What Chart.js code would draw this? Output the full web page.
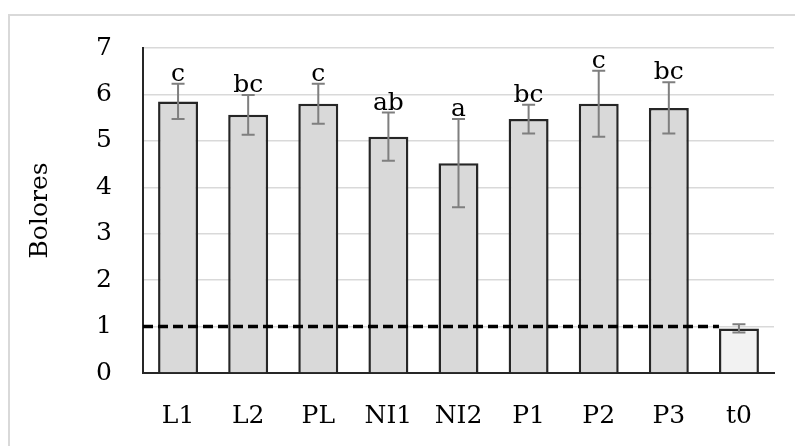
<!DOCTYPE html>
<html>
<head>
<meta charset="utf-8">
<script src="https://cdn.jsdelivr.net/npm/chart.js@4/dist/chart.umd.min.js"></script>
<style>
html,body{margin:0;padding:0;background:#fff;}
#c{display:block;}
</style>
</head>
<body>
<canvas id="c" width="795" height="446"></canvas>
<script>
const categories = ['L1','L2','PL','NI1','NI2','P1','P2','P3','t0'];
const means  = [5.85, 5.56, 5.80, 5.09, 4.52, 5.47, 5.80, 5.71, 0.96];
const errors = [0.38, 0.43, 0.43, 0.52, 0.95, 0.31, 0.71, 0.55, 0.09];
const letters = ['c','bc','c','ab','a','bc','c','bc',''];
const yAxisTitle = 'Bolores';
const yMin = 0, yMax = 7, yStep = 1;
const threshold = 1;

const FONT = '"DejaVu Serif", "Liberation Serif", serif';
const TEXT = '#000';

const frame = {
  id: 'frame',
  beforeDraw(chart) {
    const ctx = chart.ctx;
    ctx.save();
    ctx.fillStyle = '#fff';
    ctx.fillRect(0, 0, chart.width, chart.height);
    ctx.strokeStyle = '#d9d9d9';
    ctx.lineWidth = 2;
    ctx.strokeRect(9, 15, 900, 600);
    ctx.restore();
  }
};

const extras = {
  id: 'extras',
  afterDatasetsDraw(chart) {
    const ctx = chart.ctx;
    const y = chart.scales.y;
    const meta = chart.getDatasetMeta(0);
    ctx.save();
    const lastBar = meta.data[meta.data.length - 1];
    const yT = y.getPixelForValue(threshold);
    ctx.strokeStyle = '#000';
    ctx.lineWidth = 3.5;
    ctx.setLineDash([10, 5]);
    ctx.beginPath();
    ctx.moveTo(chart.chartArea.left, yT);
    ctx.lineTo(lastBar.x - lastBar.width / 2, yT);
    ctx.stroke();
    ctx.setLineDash([]);
    ctx.strokeStyle = '#7f7f7f';
    ctx.lineWidth = 2;
    meta.data.forEach((el, i) => {
      const top = y.getPixelForValue(means[i] + errors[i]);
      const bot = y.getPixelForValue(means[i] - errors[i]);
      ctx.beginPath();
      ctx.moveTo(el.x, top); ctx.lineTo(el.x, bot);
      ctx.moveTo(el.x - 6.5, top); ctx.lineTo(el.x + 6.5, top);
      ctx.moveTo(el.x - 6.5, bot); ctx.lineTo(el.x + 6.5, bot);
      ctx.stroke();
      if (letters[i]) {
        ctx.fillStyle = TEXT;
        ctx.font = '25px ' + FONT;
        ctx.textAlign = 'center';
        ctx.textBaseline = 'alphabetic';
        ctx.fillText(letters[i], el.x, top - 3);
      }
    });
    ctx.restore();
  }
};

new Chart(document.getElementById('c'), {
  type: 'bar',
  data: {
    labels: categories,
    datasets: [{
      data: means,
      backgroundColor: (c) => c.dataIndex === categories.length - 1 ? '#f2f2f2' : '#d9d9d9',
      borderColor: '#262626',
      borderWidth: 2.5,
      categoryPercentage: 1,
      barPercentage: 0.57
    }]
  },
  options: {
    responsive: false,
    animation: false,
    layout: { padding: { left: 0, top: 48, right: 21, bottom: 0 } },
    plugins: { legend: { display: false }, tooltip: { enabled: false } },
    scales: {
      x: {
        grid: { display: false },
        border: { display: true, color: '#262626', width: 2 },
        ticks: { color: TEXT, font: { family: FONT, size: 25 }, padding: 20, maxRotation: 0 },
        afterFit(s) { s.height = 73; }
      },
      y: {
        min: yMin, max: yMax,
        grid: { color: '#d9d9d9', lineWidth: 1.5, drawTicks: false },
        border: { display: true, color: '#262626', width: 2 },
        ticks: { stepSize: yStep, color: TEXT, font: { family: FONT, size: 25 }, padding: 31 },
        title: { display: true, text: yAxisTitle, color: TEXT, font: { family: FONT, size: 25 }, padding: { top: 25, bottom: 0 } },
        afterFit(s) { s.width = 143; }
      }
    }
  },
  plugins: [frame, extras]
});
</script>
</body>
</html>
